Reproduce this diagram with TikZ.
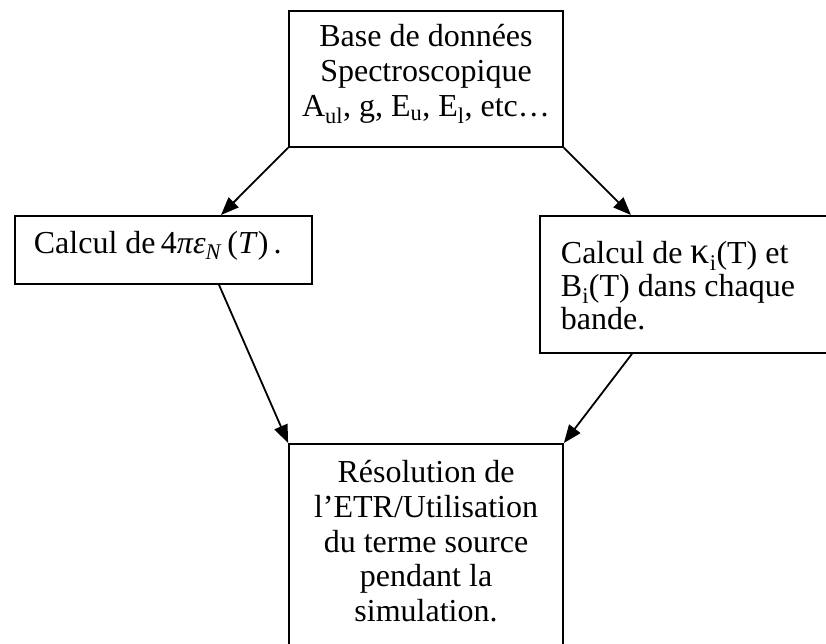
\documentclass[tikz,border=0pt]{standalone}
\usepackage{fontspec}
\setmainfont{Liberation Serif}
\usetikzlibrary{arrows.meta}

\begin{document}
\begin{tikzpicture}[x=1pt,y=-1pt,
    boite/.style={draw, line width=1.8pt, inner ysep=0pt},
    fleche/.style={line width=1.8pt, -{Triangle[length=18pt,width=14pt]}}]
  \useasboundingbox (0,0) rectangle (826,644);

  \node[boite, anchor=north, inner xsep=0pt, text width=274pt, text height=36pt, text depth=100pt, align=flush center, font=\fontsize{32}{35}\selectfont] (base) at (426,10)
    {Base de données\hspace*{13pt}\\Spectroscopique\hspace*{6pt}\\A\textsubscript{ul}, g, E\textsubscript{u}, E\textsubscript{l}, etc…\hspace*{6pt}};
  \node[boite, anchor=north west, inner xsep=19pt, text width=259pt, text height=38pt, text depth=30pt, align=flush left, font=\fontsize{32}{35}\selectfont] (gauche) at (14,215)
    {Calcul de\,4\textit{πε}\textsubscript{\textit{N}}\,(\textit{T})\,.};
  \node[boite, anchor=north west, inner xsep=21pt, text width=258pt, text height=48pt, text depth=89pt, align=flush left, font=\fontsize{32}{33}\selectfont] (droite) at (539,215)
    {Calcul de {\fontsize{38}{33}\selectfont κ}\textsubscript{i}(T) et\\B\textsubscript{i}(T) dans chaque\\bande.};
  \node[boite, anchor=north, inner xsep=0pt, text width=274pt, text height=39pt, text depth=178pt, align=flush center, font=\fontsize{32}{34.6}\selectfont] (resol) at (426,443)
    {Résolution de\hspace*{25pt}\\l’ETR/Utilisation\\du terme source\\pendant la\\simulation.};

  \draw[fleche] (base.south west) -- ([xshift=207pt]gauche.north west);
  \draw[fleche] (base.south east) -- ([xshift=92pt]droite.north west);
  \draw[fleche] ([xshift=205pt]gauche.south west) -- (resol.north west);
  \draw[fleche] ([xshift=93pt]droite.south west) -- (resol.north east);
\end{tikzpicture}
\end{document}
